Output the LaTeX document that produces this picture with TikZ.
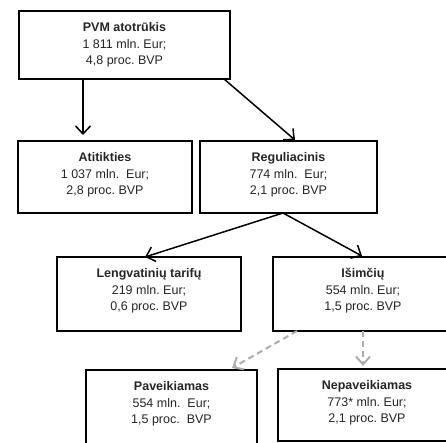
\documentclass[tikz,border=0pt]{standalone}
\usepackage{fontspec}
\setmainfont{Liberation Sans}
\usetikzlibrary{arrows.meta,calc}
\frenchspacing
\tikzset{
  box/.style={draw=black, line width=1.8pt, rectangle, inner sep=0pt, outer sep=0pt},
  txt/.style={align=center, font=\fontsize{12.5}{16.5}\selectfont, inner sep=0pt, text=black!85},
  arr/.style={line width=1.5pt, -{Straight Barb[length=8pt,width=15pt,line width=1.5pt]}},
  darr/.style={line width=2pt, draw=black!32, dash pattern=on 6pt off 4pt, -{Straight Barb[length=8pt,width=14pt,line width=2pt]}}
}
\begin{document}
\begin{tikzpicture}[x=1pt,y=1pt]
\useasboundingbox (0,0) rectangle (446,443);
\fill[white] (0,0) rectangle (446,443);
\clip (0,0) rectangle (446,443);
% boxes (centre x, centre y = 443 - page y)
\node[box, minimum width=211pt, minimum height=68pt] (top) at (124.5,398) {};
\node[box, minimum width=174pt, minimum height=72pt] (atit) at (105,266) {};
\node[box, minimum width=177pt, minimum height=72pt] (reg) at (288.5,266) {};
\node[box, minimum width=184pt, minimum height=74pt] (leng) at (149,149) {};
\node[box, minimum width=180pt, minimum height=74pt] (isim) at (363,149) {};
\node[box, minimum width=171pt, minimum height=90pt] (pav) at (171.5,28) {};
\node[box, minimum width=178pt, minimum height=72pt] (nep) at (367,38) {};
% texts
\node[txt] (ttop) at ($(top.north)+(0,-34)$) {\textbf{PVM atotrūkis}\\1 811 mln. Eur;\\4,8 proc. BVP};
\node[txt] (tatit) at ($(atit.north)+(0,-34)$) {\textbf{Atitikties}\\1 037 mln.\ \ Eur;\\2,8 proc. BVP};
\node[txt] (treg) at ($(reg.north)+(0,-34)$) {\textbf{Reguliacinis}\\774 mln.\ \ Eur;\\2,1 proc. BVP};
\node[txt] (tleng) at ($(leng.north)+(0,-34)$) {\textbf{Lengvatinių tarifų}\\219 mln. Eur;\\0,6 proc. BVP};
\node[txt] (tisim) at ($(isim.north)+(0,-34)$) {\textbf{Išimčių}\\554 mln. Eur;\\1,5 proc. BVP};
\node[txt] (tpav) at ($(pav.north)+(0,-34)$) {\textbf{Paveikiamas}\\554 mln.\ \ Eur;\\1,5 proc.\ \ BVP};
\node[txt] (tnep) at ($(nep.north)+(0,-34)$) {\textbf{Nepaveikiamas}\\773* mln. Eur;\\2,1 proc. BVP};
% connectors
\draw[arr] ($(top.south west)+(64,0)$) -- ($(atit.north west)+(65,6)$);
\draw[arr] ($(top.south west)+(205,0)$) -- ($(reg.north west)+(95,1)$);
\draw[arr] ($(reg.south west)+(83,0)$) -- ($(leng.north west)+(88,0)$);
\draw[arr] ($(reg.south west)+(83,0)$) -- ($(isim.north west)+(89,1)$);
\draw[darr] ($(isim.south west)+(24,0)$) -- ($(pav.north west)+(146,2)$);
\draw[darr] ($(isim.south west)+(90,0)$) -- ($(nep.north west)+(85,3)$);
\end{tikzpicture}
\end{document}
